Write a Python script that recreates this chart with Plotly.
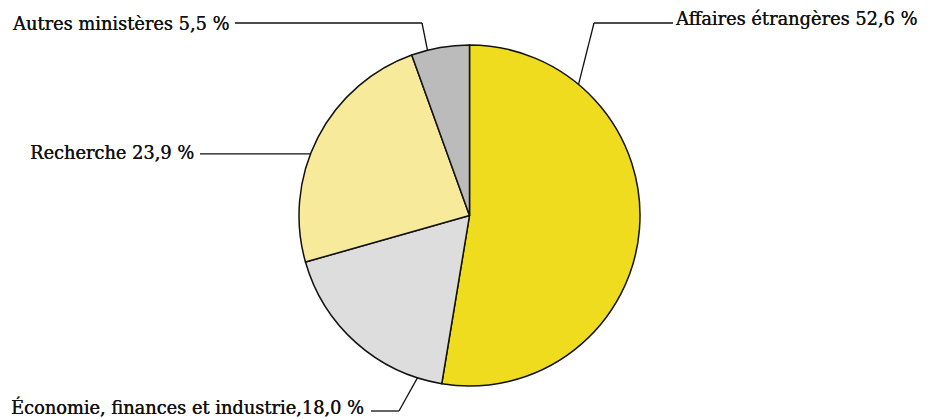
import math
import plotly.graph_objects as go

# Répartition par ministère
categories = ["Affaires étrangères", "Économie, finances et industrie", "Recherche", "Autres ministères"]
shares = [52.6, 18.0, 23.9, 5.5]
labels = ["Affaires étrangères 52,6 %", "Économie, finances et industrie,18,0 %",
          "Recherche 23,9 %", "Autres ministères 5,5 %"]
colors = ["#EFDC1F", "#DDDDDD", "#F7EA9A", "#BBBBBB"]

W, H = 930, 419
CX, CY, R = 469.5, 215.5, 170.5

def px(x):
    return x / W

def py(y):
    return 1 - y / H

fig = go.Figure(go.Pie(
    labels=categories, values=shares, sort=False, direction="clockwise", rotation=0,
    marker=dict(colors=colors, line=dict(color="#111111", width=1.5)),
    textinfo="none", hoverinfo="label+percent", showlegend=False,
    domain=dict(x=[px(CX - R), px(CX + R)], y=[py(CY + R), py(CY - R)]),
))

# Leader-line settings: where the line leaves the slice (fraction of the slice),
# the elbow / end points in pixels, and the side on which the label sits.
leaders = [
    dict(frac=0.21, pts=[(594, 23), (673, 23)], side="left", tx=673, ty=18),
    dict(frac=0.13, pts=[(399, 411), (371, 411)], side="right", tx=366, ty=407),
    dict(frac=0.43, pts=[(200, None)], side="right", tx=196, ty=153),
    dict(frac=0.28, pts=[(422, 23), (235, 23)], side="right", tx=231, ty=23),
]

total = sum(shares)
start = 0.0
shapes, annotations = [], []
for share, text, ld in zip(shares, labels, leaders):
    sweep = share / total * 360
    theta = math.radians(start + ld["frac"] * sweep)
    start += sweep
    ax = CX + R * math.sin(theta)
    ay = CY - R * math.cos(theta)
    pts = [(ax, ay)] + [(x, ay if y is None else y) for x, y in ld["pts"]]
    for (x0, y0), (x1, y1) in zip(pts[:-1], pts[1:]):
        shapes.append(dict(type="line", xref="paper", yref="paper",
                           x0=px(x0), y0=py(y0), x1=px(x1), y1=py(y1),
                           line=dict(color="#111111", width=1.3)))
    annotations.append(dict(
        text=text, xref="paper", yref="paper", x=px(ld["tx"]), y=py(ld["ty"]),
        xanchor="left" if ld["side"] == "left" else "right", yanchor="middle",
        showarrow=False,
        font=dict(family="DejaVu Serif", size=17.8, color="#111111",
                  shadow="0.35px 0 0 #111111"),
    ))

fig.update_layout(
    width=W, height=H, margin=dict(l=0, r=0, t=0, b=0),
    paper_bgcolor="white", plot_bgcolor="white",
    shapes=shapes, annotations=annotations,
)

fig.write_html("out.html")
